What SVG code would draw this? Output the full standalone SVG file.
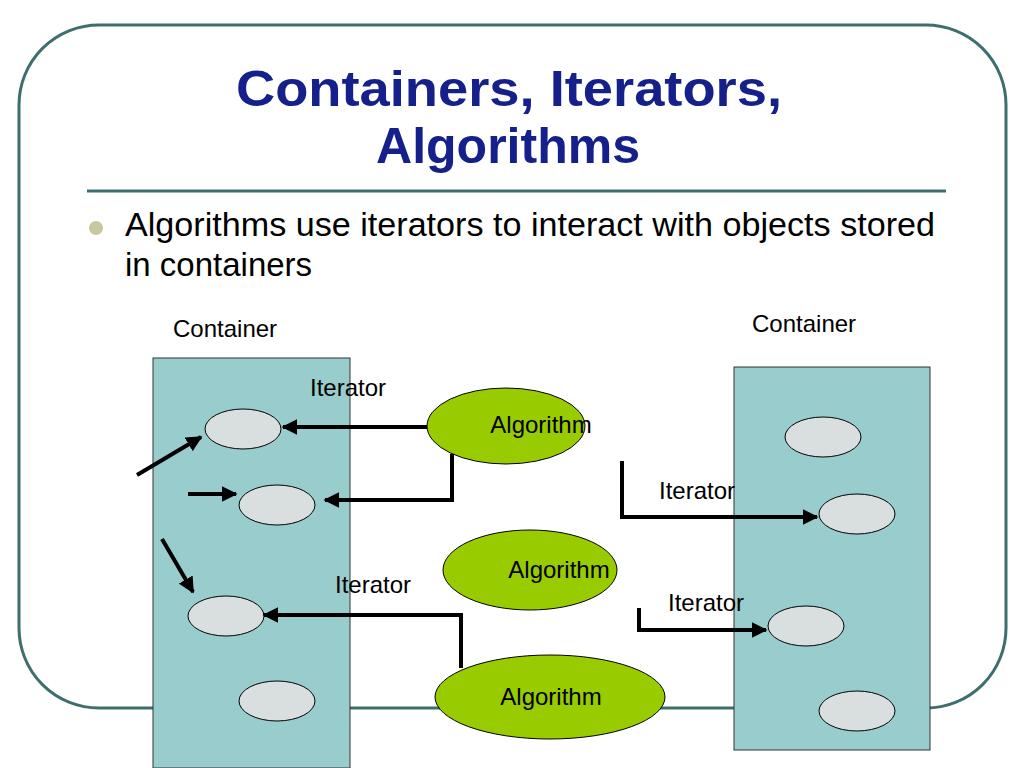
<svg xmlns="http://www.w3.org/2000/svg" width="1024" height="768" viewBox="0 0 1024 768">
<defs>
<marker id="ah" viewBox="0 0 10 10" refX="9" refY="5" markerWidth="4" markerHeight="4" orient="auto" markerUnits="strokeWidth"><path d="M0,0 L10,5 L0,10 z" fill="#000"/></marker>
<style>
.t{font-family:"Liberation Sans",Arial,sans-serif}
.s{font-size:24px}
.cont{fill:#99cccc;stroke:#333;stroke-width:1}
.obj{fill:#d9dede;stroke:#000;stroke-width:1}
.alg{fill:#99cc00;stroke:#000;stroke-width:1}
.c{fill:none;stroke:#000;stroke-width:4;marker-end:url(#ah)}
</style>
</defs>
<rect width="1024" height="768" fill="#fff"/>
<rect x="19" y="25" width="987" height="683" rx="80" fill="none" stroke="#3f6e6e" stroke-width="3"/>
<line x1="87" y1="191" x2="946" y2="191" stroke="#3f6e6e" stroke-width="3"/>
<text class="t" x="509" y="106" text-anchor="middle" font-size="50" font-weight="bold" fill="#15208a" textLength="546" lengthAdjust="spacingAndGlyphs">Containers, Iterators,</text>
<text class="t" x="508" y="163" text-anchor="middle" font-size="50" font-weight="bold" fill="#15208a">Algorithms</text>
<circle cx="96" cy="228" r="7" fill="#c8c8a0"/>
<text class="t" x="125" y="236" font-size="33" textLength="810" lengthAdjust="spacingAndGlyphs">Algorithms use iterators to interact with objects stored</text>
<text class="t" x="125" y="276" font-size="33">in containers</text>
<text class="t s" x="173" y="337">Container</text>
<text class="t s" x="752" y="332">Container</text>
<g id="container-left"><rect class="cont" x="153" y="358" width="197" height="410"/></g>
<g id="container-right"><rect class="cont" x="734" y="367" width="196" height="383"/></g>
<g id="objs-left">
<ellipse class="obj" cx="243" cy="429" rx="38" ry="20"/>
<ellipse class="obj" cx="277" cy="505" rx="38" ry="20"/>
<ellipse class="obj" cx="226" cy="616" rx="38" ry="20"/>
<ellipse class="obj" cx="277" cy="701" rx="38" ry="20"/>
</g>
<g id="objs-right">
<ellipse class="obj" cx="823" cy="437" rx="38" ry="20"/>
<ellipse class="obj" cx="857" cy="514" rx="38" ry="20"/>
<ellipse class="obj" cx="806" cy="626" rx="38" ry="20"/>
<ellipse class="obj" cx="857" cy="711" rx="38" ry="20"/>
</g>
<g id="alg1"><ellipse class="alg" cx="506" cy="426" rx="79" ry="38"/><text class="t s" x="541" y="433" text-anchor="middle">Algorithm</text></g>
<g id="alg2"><ellipse class="alg" cx="530" cy="570" rx="87" ry="40"/><text class="t s" x="559" y="578" text-anchor="middle">Algorithm</text></g>
<g id="alg3"><ellipse class="alg" cx="550" cy="697" rx="115" ry="42"/><text class="t s" x="551" y="705" text-anchor="middle">Algorithm</text></g>
<g id="connectors">
<line class="c" x1="427" y1="427" x2="283" y2="427"/>
<polyline class="c" points="452,454 452,500 325,500"/>
<polyline class="c" points="461,668 461,615 264,615"/>
<polyline class="c" points="622,461 622,517 817,517"/>
<polyline class="c" points="639,608 639,630 766,630"/>
<line class="c" x1="137" y1="475" x2="201" y2="437"/>
<line class="c" x1="188" y1="494" x2="236" y2="494"/>
<line class="c" x1="162" y1="539" x2="193" y2="592"/>
</g>
<text class="t s" x="310" y="396">Iterator</text>
<text class="t s" x="335" y="593">Iterator</text>
<text class="t s" x="659" y="499">Iterator</text>
<text class="t s" x="668" y="611">Iterator</text>
</svg>
